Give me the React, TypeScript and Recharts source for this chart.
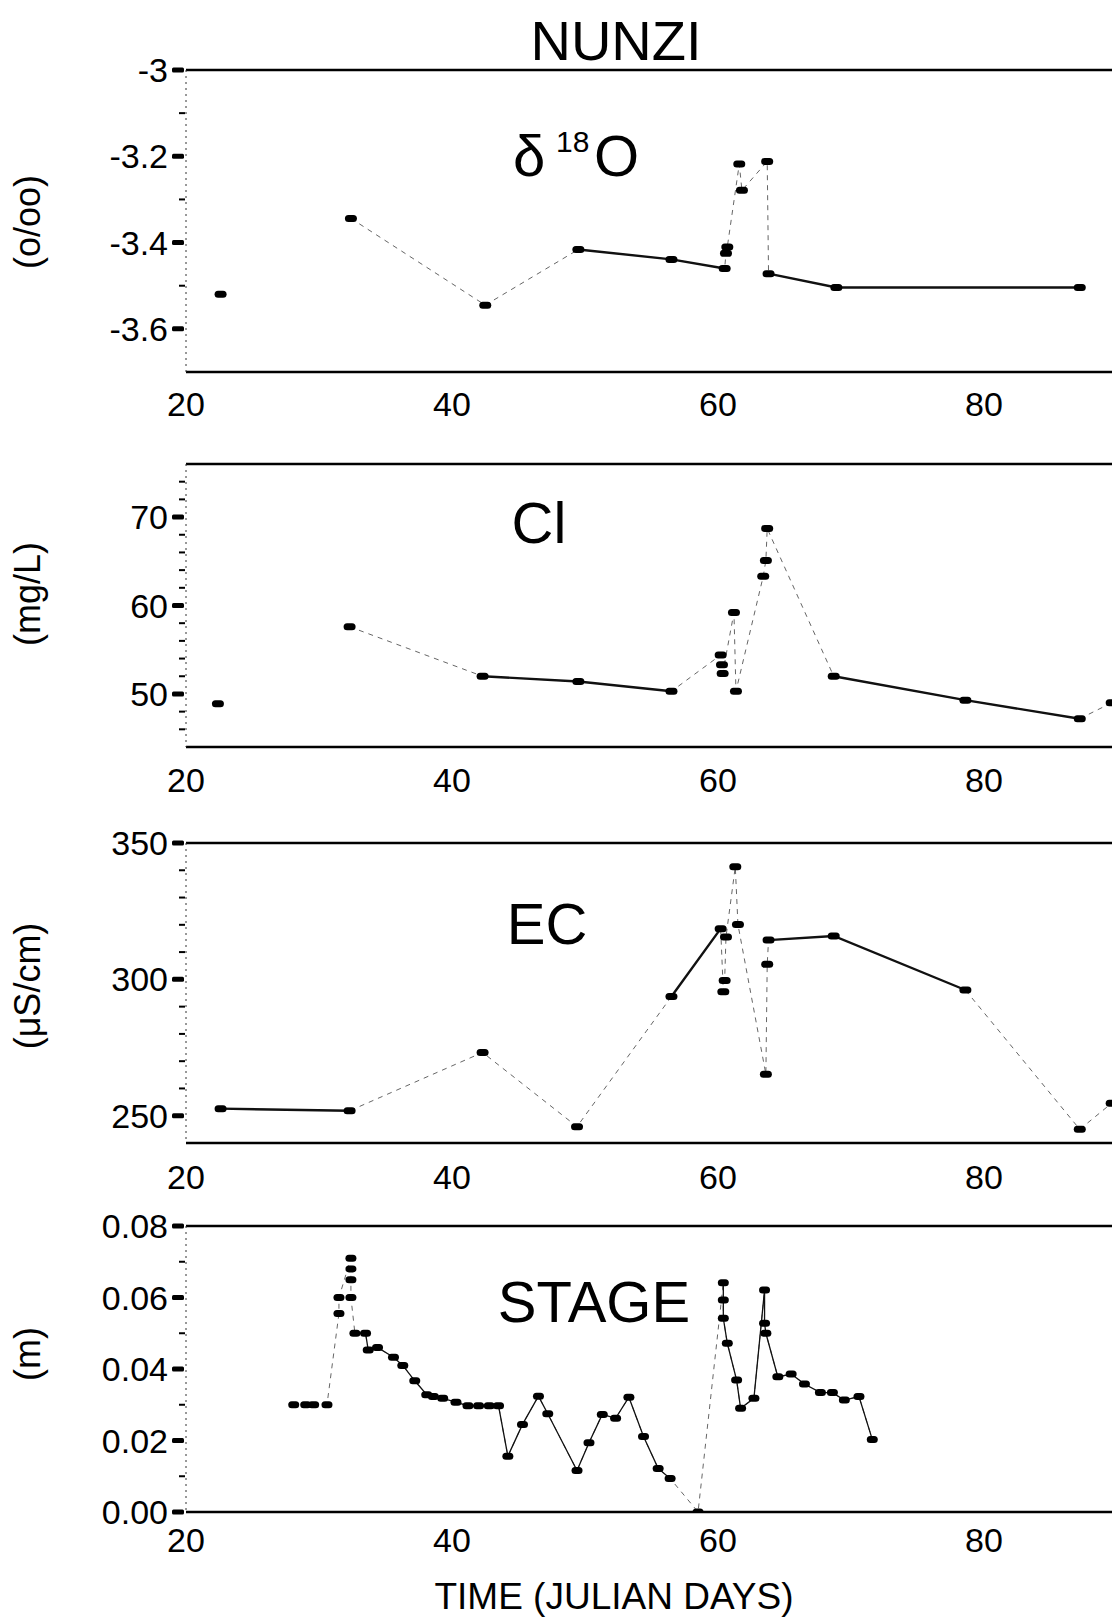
import React from "react";
import { LineChart, Line, XAxis, YAxis, ReferenceLine } from "recharts";

// x axis (julian days), shared by all four panels
const xTicks = [20, 40, 60, 80];

// delta 18O (o/oo)
const o18Days = [22.6, 32.4, 42.5, 49.5, 56.5, 60.5, 60.6, 60.7, 61.6, 61.8, 63.7, 63.8, 68.9, 87.2];
const o18Vals = [-3.52, -3.344, -3.545, -3.416, -3.439, -3.46, -3.425, -3.41, -3.218, -3.279, -3.212, -3.472, -3.504, -3.504];
const o18Major = [-3, -3.2, -3.4, -3.6];
const o18Minor = [-3.1, -3.3, -3.5];
const o18Solid: [number, number][] = [[49.5, 60.5], [63.8, 87.2]];
const o18Thin: [number, number][] = [[32.4, 87.2]];

// Cl (mg/L)
const clDays = [22.4, 32.3, 42.3, 49.5, 56.5, 60.2, 60.3, 60.35, 61.2, 61.35, 63.4, 63.6, 63.7, 68.7, 78.6, 87.2, 89.6];
const clVals = [48.9, 57.6, 52.0, 51.4, 50.3, 54.4, 53.3, 52.3, 59.2, 50.3, 63.3, 65.1, 68.7, 52.0, 49.3, 47.2, 49.0];
const clMajor = [50, 60, 70];
const clMinor = [46, 48, 52, 54, 56, 58, 62, 64, 66, 68, 72, 74];
const clSolid: [number, number][] = [[42.3, 56.5], [68.7, 87.2]];
const clThin: [number, number][] = [[32.3, 89.6]];

// EC (uS/cm)
const ecDays = [22.6, 32.3, 42.3, 49.4, 56.5, 60.2, 60.4, 60.5, 60.6, 61.3, 61.5, 63.6, 63.7, 63.8, 68.7, 78.6, 87.2, 89.6];
const ecVals = [252.6, 251.8, 273.2, 246.0, 293.7, 318.6, 295.5, 299.6, 315.5, 341.3, 320.1, 265.2, 305.5, 314.4, 315.9, 296.1, 245.0, 254.6];
const ecMajor = [250, 300, 350];
const ecMinor = [260, 270, 280, 290, 310, 320, 330, 340];
const ecSolid: [number, number][] = [[22.6, 32.3], [56.5, 60.2], [63.8, 78.6]];
const ecThin: [number, number][] = [[22.6, 89.6]];

// stage (m)
const stageDays = [
  28.1, 29.0, 29.6, 30.6, 31.5, 31.5, 32.4, 32.4, 32.4, 32.4, 32.7, 33.5, 33.7, 34.4, 35.6, 36.3, 37.2,
  38.1, 38.6, 39.3, 40.3, 41.2, 42.0, 42.8, 43.5, 44.2, 45.3, 46.5, 47.2, 49.4, 50.3, 51.3, 52.3, 53.3,
  54.4, 55.5, 56.4, 58.5, 60.4, 60.4, 60.4, 60.7, 61.4, 61.7, 62.7, 63.5, 63.5, 63.6, 64.5, 65.5, 66.5,
  67.7, 68.6, 69.5, 70.6, 71.6,
];
const stageVals = [
  0.030, 0.030, 0.030, 0.030, 0.0555, 0.060, 0.071, 0.068, 0.065, 0.060, 0.050, 0.050, 0.0453, 0.046,
  0.0433, 0.041, 0.0367, 0.0328, 0.0323, 0.0318, 0.0307, 0.0297, 0.0297, 0.0297, 0.0297, 0.0156, 0.0245,
  0.0324, 0.0275, 0.0116, 0.0194, 0.0273, 0.0262, 0.0321, 0.0211, 0.0122, 0.0094, 0.0, 0.0641, 0.0593,
  0.0542, 0.0472, 0.0369, 0.029, 0.0318, 0.0621, 0.0528, 0.050, 0.0378, 0.0386, 0.0358, 0.0334, 0.0334,
  0.0313, 0.0323, 0.0203,
];
const stageMajor = [0, 0.02, 0.04, 0.06, 0.08];
const stageMinor = [0.01, 0.03, 0.05, 0.07];
const stageSolid: [number, number][] = [[32.7, 47.2], [49.4, 56.4], [60.4, 71.6]];
const stageThin: [number, number][] = [[28.1, 71.6]];

const FONT = "'Liberation Sans', Arial, Helvetica, sans-serif";

const inside = (d: number, rs: [number, number][]) => rs.some(([a, b]) => d >= a && d <= b);

function buildRows(days: number[], vals: number[], solid: [number, number][], thin: [number, number][]) {
  return days.map((day, i) => ({
    day,
    v: vals[i],
    solid: inside(day, solid) ? vals[i] : null,
    thin: inside(day, thin) ? vals[i] : null,
  }));
}

function XTick(props: any) {
  const { x, y, payload, dy } = props;
  return (
    <text x={x} y={y + dy} textAnchor="middle" dominantBaseline="central" fontSize={34} fontFamily={FONT} fill="#000">
      {payload.value}
    </text>
  );
}

function YTick(props: any) {
  const { x, y, payload, major, fmt } = props;
  const isMajor = major.includes(payload.value);
  return (
    <g>
      {isMajor ? (
        <rect x={x - 14} y={y - 2.5} width={12} height={5} rx={1.5} fill="#000" />
      ) : (
        <rect x={x - 7} y={y - 1} width={6} height={2} fill="#000" />
      )}
      {isMajor && (
        <text x={x - 18} y={y} textAnchor="end" dominantBaseline="central" fontSize={34} fontFamily={FONT} fill="#000">
          {fmt(payload.value)}
        </text>
      )}
    </g>
  );
}

type PanelProps = {
  top: number;
  plotH: number;
  domain: [number, number];
  major: number[];
  minor: number[];
  fmt: (v: number) => string;
  rows: any[];
  solidW: number;
  markW: number;
  labelDy: number;
};

function Panel({ top, plotH, domain, major, minor, fmt, rows, solidW, markW, labelDy }: PanelProps) {
  const mt = 26;
  const xh = 66;
  return (
    <div style={{ position: "absolute", left: 0, top: top - mt }}>
      <LineChart width={1250} height={mt + plotH + xh} data={rows} margin={{ top: mt, right: 0, bottom: 0, left: 0 }}>
        <XAxis
          dataKey="day"
          type="number"
          domain={[20, 100]}
          ticks={xTicks}
          interval={0}
          height={xh}
          axisLine={false}
          tickLine={false}
          tickSize={0}
          tickMargin={0}
          allowDataOverflow
          tick={(p: any) => <XTick {...p} dy={labelDy} />}
        />
        <YAxis
          type="number"
          domain={domain}
          ticks={[...major, ...minor]}
          interval={0}
          width={186}
          tickLine={false}
          tickSize={0}
          tickMargin={0}
          allowDataOverflow
          axisLine={{ stroke: "#333", strokeWidth: 1, strokeDasharray: "2 4" }}
          tick={(p: any) => <YTick {...p} major={major} fmt={fmt} />}
        />
        <ReferenceLine y={domain[1]} stroke="#000" strokeWidth={2.5} />
        <ReferenceLine y={domain[0]} stroke="#000" strokeWidth={2.5} />
        <Line
          type="linear"
          dataKey="thin"
          stroke="#666"
          strokeWidth={1}
          strokeDasharray="5 5"
          dot={false}
          activeDot={false}
          isAnimationActive={false}
        />
        <Line
          type="linear"
          dataKey="solid"
          stroke="#111"
          strokeWidth={solidW}
          dot={false}
          activeDot={false}
          isAnimationActive={false}
        />
        <Line
          type="linear"
          dataKey="v"
          stroke="none"
          strokeWidth={0}
          activeDot={false}
          isAnimationActive={false}
          dot={(p: any) =>
            p.cx == null || p.cy == null ? (
              <g key={p.index} />
            ) : (
              <rect key={p.index} x={p.cx - markW / 2} y={p.cy - 3.5} width={markW} height={7} rx={3.5} fill="#000" />
            )
          }
        />
      </LineChart>
    </div>
  );
}

export default function App() {
  const txt = { fontFamily: FONT, fill: "#000" } as const;
  return (
    <div style={{ position: "absolute", left: 0, top: 0, width: 1112, height: 1619, overflow: "hidden", background: "#fff" }}>
      <Panel
        top={70}
        plotH={302}
        domain={[-3.7, -3]}
        major={o18Major}
        minor={o18Minor}
        fmt={(v) => String(v)}
        rows={buildRows(o18Days, o18Vals, o18Solid, o18Thin)}
        solidW={2.4}
        markW={12}
        labelDy={32}
      />
      <Panel
        top={464}
        plotH={283}
        domain={[44, 76]}
        major={clMajor}
        minor={clMinor}
        fmt={(v) => String(v)}
        rows={buildRows(clDays, clVals, clSolid, clThin)}
        solidW={2.4}
        markW={12}
        labelDy={33}
      />
      <Panel
        top={843}
        plotH={300}
        domain={[240, 350]}
        major={ecMajor}
        minor={ecMinor}
        fmt={(v) => String(v)}
        rows={buildRows(ecDays, ecVals, ecSolid, ecThin)}
        solidW={2.4}
        markW={12}
        labelDy={34}
      />
      <Panel
        top={1226}
        plotH={286}
        domain={[0, 0.08]}
        major={stageMajor}
        minor={stageMinor}
        fmt={(v) => v.toFixed(2)}
        rows={buildRows(stageDays, stageVals, stageSolid, stageThin)}
        solidW={1.3}
        markW={11}
        labelDy={28}
      />
      <svg width={1112} height={1619} style={{ position: "absolute", left: 0, top: 0, pointerEvents: "none" }}>
        <text x={616} y={60} textAnchor="middle" fontSize={56} {...txt}>NUNZI</text>
        <text x={513} y={176} fontSize={58} {...txt}>δ</text>
        <text x={556} y={152} fontSize={30} {...txt}>18</text>
        <text x={594} y={176} fontSize={58} {...txt}>O</text>
        <text x={539} y={543} textAnchor="middle" fontSize={58} {...txt}>Cl</text>
        <text x={547} y={944} textAnchor="middle" fontSize={58} {...txt}>EC</text>
        <text x={594} y={1322} textAnchor="middle" fontSize={58} {...txt}>STAGE</text>
        <text x={614} y={1609} textAnchor="middle" fontSize={37} {...txt}>TIME (JULIAN DAYS)</text>
        <text x={27} y={222} textAnchor="middle" dominantBaseline="central" fontSize={36} transform="rotate(-90 27 222)" {...txt}>(o/oo)</text>
        <text x={27} y={594} textAnchor="middle" dominantBaseline="central" fontSize={36} transform="rotate(-90 27 594)" {...txt}>(mg/L)</text>
        <text x={27} y={986} textAnchor="middle" dominantBaseline="central" fontSize={36} transform="rotate(-90 27 986)" {...txt}>(μS/cm)</text>
        <text x={27} y={1354} textAnchor="middle" dominantBaseline="central" fontSize={36} transform="rotate(-90 27 1354)" {...txt}>(m)</text>
      </svg>
    </div>
  );
}
